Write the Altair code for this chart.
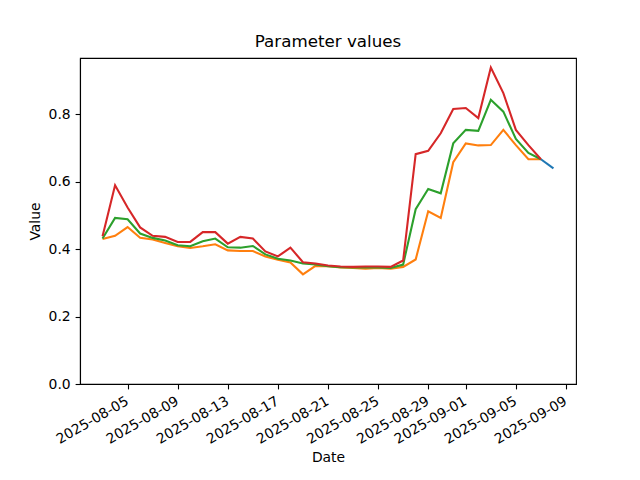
import altair as alt
import pandas as pd

dates = pd.date_range("2025-08-03", "2025-09-07", freq="D").strftime("%Y-%m-%d").tolist()

orange = [0.430, 0.439, 0.465, 0.433, 0.428, 0.418, 0.408, 0.403, 0.408, 0.414,
          0.396, 0.394, 0.394, 0.378, 0.368, 0.360, 0.325, 0.350, 0.349, 0.345,
          0.344, 0.342, 0.344, 0.342, 0.347, 0.369, 0.512, 0.492, 0.657, 0.713,
          0.707, 0.708, 0.753, 0.708, 0.666, 0.666]
green = [0.431, 0.492, 0.488, 0.446, 0.433, 0.425, 0.411, 0.408, 0.423, 0.431,
         0.405, 0.404, 0.409, 0.384, 0.371, 0.366, 0.357, 0.354, 0.349, 0.346,
         0.345, 0.345, 0.345, 0.344, 0.354, 0.518, 0.578, 0.565, 0.713, 0.753,
         0.750, 0.842, 0.807, 0.726, 0.685, 0.666]
red = [0.438, 0.589, 0.523, 0.464, 0.439, 0.436, 0.421, 0.421, 0.450, 0.450,
       0.416, 0.436, 0.431, 0.393, 0.378, 0.404, 0.361, 0.357, 0.351, 0.348,
       0.347, 0.348, 0.348, 0.347, 0.366, 0.681, 0.691, 0.743, 0.815, 0.818,
       0.788, 0.938, 0.862, 0.753, 0.708, 0.666]
blue_dates = ["2025-09-07", "2025-09-08"]
blue = [0.666, 0.639]

tick_dates = ["2025-08-05", "2025-08-09", "2025-08-13", "2025-08-17", "2025-08-21",
              "2025-08-25", "2025-08-29", "2025-09-01", "2025-09-05", "2025-09-09"]

rows = []
for d, v in zip(blue_dates, blue):
    rows.append({"Date": d, "Value": v, "series": "a"})
for name, vals in [("b", orange), ("c", green), ("d", red)]:
    for d, v in zip(dates, vals):
        rows.append({"Date": d, "Value": v, "series": name})
df = pd.DataFrame(rows)

def dt(s, h=0, m=0):
    y, mo, da = [int(p) for p in s.split("-")]
    return alt.DateTime(year=y, month=mo, date=da, hours=h, minutes=m, utc=True)

xscale = alt.Scale(type="utc", domain=[dt("2025-08-01", 4, 48), dt("2025-09-09", 19, 12)])
yscale = alt.Scale(domain=[0, 0.966], nice=False)

xaxis = alt.Axis(values=[dt(s) for s in tick_dates],
                 labelExpr="utcFormat(datum.value, '%Y-%m-%d')",
                 labelAngle=330, labelAlign="right", labelBaseline="top",
                 labelOverlap=False, labelFlush=False, labelBound=False,
                 labelOffset=-4, titlePadding=4,
                 title="Date", grid=False)
yaxis = alt.Axis(values=[0, 0.2, 0.4, 0.6, 0.8], format=".1f", title="Value", grid=False,
                 labelOverlap=False, labelFlush=False, titlePadding=6)

colors = {"a": "#1f77b4", "b": "#ff7f0e", "c": "#2ca02c", "d": "#d62728"}

layers = []
for key in ["a", "b", "c", "d"]:
    layers.append(
        alt.Chart(df).transform_filter(alt.datum.series == key)
        .mark_line(color=colors[key], strokeWidth=2.08)
        .encode(x=alt.X("Date:T", scale=xscale, axis=xaxis),
                y=alt.Y("Value:Q", scale=yscale, axis=yaxis))
    )

chart = alt.layer(*layers).properties(
    width=496, height=326,
    title=alt.TitleParams("Parameter values", fontSize=16.7, font="DejaVu Sans",
                          fontWeight="normal", color="black", offset=7),
    autosize=alt.AutoSizeParams(type="none"),
    padding={"left": 72, "top": 50, "right": 56, "bottom": 86},
).configure_view(stroke="black", strokeWidth=1.1).configure_axis(
    labelFont="DejaVu Sans", titleFont="DejaVu Sans", labelFontSize=13.9,
    titleFontSize=13.9, titleFontWeight="normal", labelColor="black", titleColor="black",
    domainColor="black", tickColor="black", tickSize=4.9, labelPadding=4.9,
    domainWidth=1.1, tickWidth=1.1,
)

chart.save("out.html", embed_options={"renderer": "svg", "actions": False})
